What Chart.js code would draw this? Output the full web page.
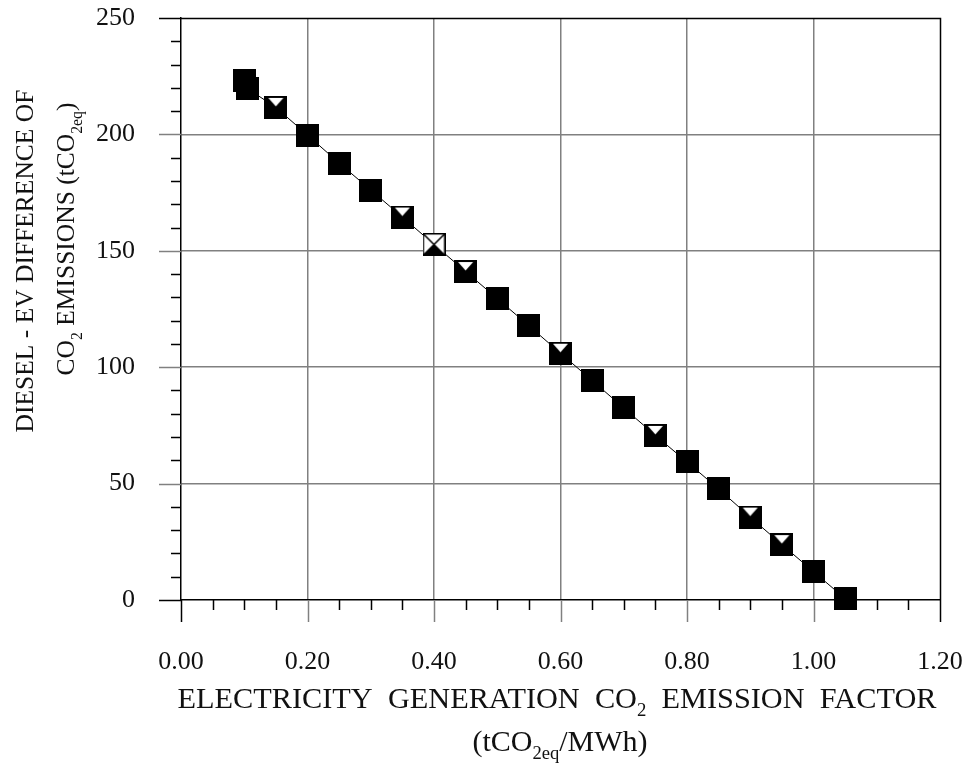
<!DOCTYPE html>
<html>
<head>
<meta charset="utf-8">
<script src="https://cdn.jsdelivr.net/npm/chart.js@4/dist/chart.umd.min.js"></script>
<style>
  html, body { margin: 0; padding: 0; background: #fff; }
  #wrap { width: 969px; height: 764px; }
</style>
</head>
<body>
<div id="wrap"><canvas id="chart" width="969" height="764"></canvas></div>
<script>
// Grid emission factor (tCO2eq/MWh) and the diesel minus EV emission gap (tCO2eq)
const emissionFactor = [0.10, 0.105, 0.15, 0.20, 0.25, 0.30, 0.35, 0.40, 0.45, 0.50, 0.55,
                        0.60, 0.65, 0.70, 0.75, 0.80, 0.85, 0.90, 0.95, 1.00, 1.05];
const emissionDifference = [223.2, 219.7, 211.6, 199.7, 187.7, 176.1, 164.5, 152.7, 141.1, 129.5, 117.8,
                            106.0, 94.3, 82.5, 70.7, 59.3, 47.7, 35.6, 23.8, 12.2, 0.6];

// Axis tick values
const xTicks = [0.0, 0.2, 0.4, 0.6, 0.8, 1.0, 1.2];
const yTicks = [0, 50, 100, 150, 200, 250];
const xMinorStep = 0.05;
const yMinorStep = 10;

// Marker variants by emission factor
const notchedAt = [0.15, 0.35, 0.45, 0.60, 0.75, 0.90, 0.95];
const crossedAt = [0.40];

const FONT = '"Liberation Serif", "Times New Roman", serif';
const INK = '#111';
const GRID = '#808080';

function makeMarker(kind) {
  const s = 23;
  const c = document.createElement('canvas');
  c.width = s; c.height = s;
  const g = c.getContext('2d');
  if (kind === 'cross') {
    g.fillStyle = '#fff';
    g.fillRect(0, 0, s, s);
    g.fillStyle = '#000';
    g.beginPath(); g.moveTo(0, s); g.lineTo(s / 2, s / 2); g.lineTo(s, s); g.closePath(); g.fill();
    g.strokeStyle = '#000'; g.lineWidth = 1.5;
    g.strokeRect(0.75, 0.75, s - 1.5, s - 1.5);
    g.beginPath(); g.moveTo(0, 0); g.lineTo(s, s); g.moveTo(s, 0); g.lineTo(0, s); g.stroke();
  } else {
    g.fillStyle = '#000';
    g.fillRect(0, 0, s, s);
    if (kind === 'notch') {
      g.fillStyle = '#fff';
      g.beginPath(); g.moveTo(4, 2); g.lineTo(s - 4, 2); g.lineTo(s / 2, 10.5); g.closePath(); g.fill();
    }
  }
  return c;
}
const markers = { plain: makeMarker('plain'), notch: makeMarker('notch'), cross: makeMarker('cross') };
const near = (a, b) => Math.abs(a - b) < 1e-6;
const pointStyles = emissionFactor.map(x =>
  crossedAt.some(v => near(v, x)) ? markers.cross :
  notchedAt.some(v => near(v, x)) ? markers.notch : markers.plain);

// Draws a line of text with subscript runs, centred on (cx, cy), optionally rotated
function drawRich(ctx, runs, cx, cy, size, rotate) {
  const subSize = size * 0.62;
  ctx.save();
  ctx.translate(cx, cy);
  if (rotate) ctx.rotate(-Math.PI / 2);
  let total = 0;
  const widths = runs.map(r => {
    ctx.font = (r.sub ? subSize : size) + 'px ' + FONT;
    const w = ctx.measureText(r.t).width;
    total += w;
    return w;
  });
  let x = -total / 2;
  const base = size * 0.33;
  ctx.fillStyle = INK;
  ctx.textBaseline = 'alphabetic';
  ctx.textAlign = 'left';
  runs.forEach((r, i) => {
    ctx.font = (r.sub ? subSize : size) + 'px ' + FONT;
    ctx.fillText(r.t, x, base + (r.sub ? size * 0.28 : 0));
    x += widths[i];
  });
  ctx.restore();
}

// Fixed scale sizes, with no extra label padding pushed into the layout
function fixSize(prop, value) {
  return s => {
    s[prop] = value;
    s.paddingTop = 0; s.paddingBottom = 0; s.paddingLeft = 0; s.paddingRight = 0;
  };
}

const frameAndTicks = {
  id: 'frameAndTicks',
  beforeDatasetsDraw(chart) {
    const { ctx, chartArea: a, scales: { x, y } } = chart;
    const major = 22, minor = 10;
    ctx.save();
    ctx.lineCap = 'butt';
    ctx.strokeStyle = '#000';
    ctx.lineWidth = 1.5;
    ctx.beginPath();
    for (let i = 0; i * xMinorStep <= 1.2 + 1e-9; i++) {
      const v = i * xMinorStep;
      if (xTicks.some(t => near(t, v))) continue;
      const px = Math.round(x.getPixelForValue(v)) + 0.5;
      ctx.moveTo(px, a.bottom); ctx.lineTo(px, a.bottom + minor);
    }
    for (let i = 0; i * yMinorStep <= 250; i++) {
      const v = i * yMinorStep;
      if (yTicks.includes(v)) continue;
      const py = Math.round(y.getPixelForValue(v)) + 0.5;
      ctx.moveTo(a.left - minor, py); ctx.lineTo(a.left, py);
    }
    ctx.stroke();
    // major ticks: grey inside, black at the frame edges
    xTicks.forEach((v, i) => {
      const edge = i === 0 || i === xTicks.length - 1;
      const px = Math.round(x.getPixelForValue(v)) + 0.5;
      ctx.strokeStyle = edge ? '#000' : GRID;
      ctx.beginPath(); ctx.moveTo(px, a.bottom); ctx.lineTo(px, a.bottom + major); ctx.stroke();
    });
    yTicks.forEach((v, i) => {
      const edge = i === 0 || i === yTicks.length - 1;
      const py = Math.round(y.getPixelForValue(v)) + 0.5;
      ctx.strokeStyle = edge ? '#000' : GRID;
      ctx.beginPath(); ctx.moveTo(a.left - major, py); ctx.lineTo(a.left, py); ctx.stroke();
    });
    // top and right frame
    ctx.strokeStyle = '#000';
    const top = Math.round(a.top) + 0.5, right = Math.round(a.right) + 0.5;
    ctx.beginPath();
    ctx.moveTo(a.left, top); ctx.lineTo(right, top); ctx.lineTo(right, a.bottom);
    ctx.stroke();
    ctx.restore();
  },
  afterDraw(chart) {
    const { ctx } = chart;
    drawRich(ctx, [{ t: 'ELECTRICITY  GENERATION  CO' }, { t: '2', sub: true }, { t: '  EMISSION  FACTOR' }],
             557, 698, 30.3, false);
    drawRich(ctx, [{ t: '(tCO' }, { t: '2eq', sub: true }, { t: '/MWh)' }], 560, 741, 30, false);
    drawRich(ctx, [{ t: 'DIESEL - EV DIFFERENCE OF' }], 25, 261, 25.5, true);
    drawRich(ctx, [{ t: 'CO' }, { t: '2', sub: true }, { t: ' EMISSIONS (tCO' }, { t: '2eq', sub: true }, { t: ')' }],
             66, 239, 25.5, true);
  }
};

new Chart(document.getElementById('chart'), {
  type: 'scatter',
  data: {
    datasets: [{
      data: emissionFactor.map((xv, i) => ({ x: xv, y: emissionDifference[i] })),
      showLine: true,
      borderColor: '#000',
      borderWidth: 1,
      tension: 0,
      pointStyle: pointStyles,
      pointRadius: 12,
      pointHoverRadius: 12,
      clip: false
    }]
  },
  options: {
    responsive: false,
    animation: false,
    devicePixelRatio: 1,
    events: [],
    layout: { padding: { left: 0, right: 29, top: 18, bottom: 0 } },
    plugins: { legend: { display: false }, tooltip: { enabled: false } },
    scales: {
      x: {
        type: 'linear', min: 0, max: 1.2,
        afterFit: fixSize('height', 164),
        afterBuildTicks(s) { s.ticks = xTicks.map(v => ({ value: v })); },
        grid: {
          drawTicks: false, lineWidth: 1.5,
          color: c => (c.index > 0 && c.index < xTicks.length - 1) ? GRID : 'rgba(0,0,0,0)'
        },
        border: { display: true, color: '#000', width: 1.5 },
        ticks: {
          padding: 47, color: INK, font: { family: FONT, size: 26 },
          maxRotation: 0, autoSkip: false,
          callback: v => Number(v).toFixed(2)
        }
      },
      y: {
        type: 'linear', min: 0, max: 250,
        afterFit: fixSize('width', 181),
        afterBuildTicks(s) { s.ticks = yTicks.map(v => ({ value: v })); },
        grid: {
          drawTicks: false, lineWidth: 1.5,
          color: c => (c.index > 0 && c.index < yTicks.length - 1) ? GRID : 'rgba(0,0,0,0)'
        },
        border: { display: true, color: '#000', width: 1.5 },
        ticks: {
          padding: 46, color: INK, font: { family: FONT, size: 26 },
          autoSkip: false,
          callback: v => String(v)
        }
      }
    }
  },
  plugins: [frameAndTicks]
});
</script>
</body>
</html>
